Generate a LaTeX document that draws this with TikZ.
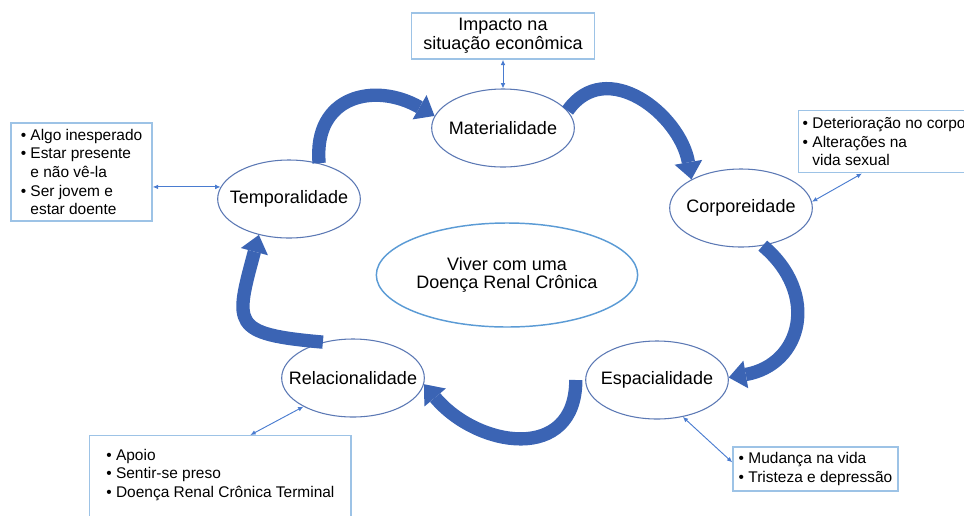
\documentclass[tikz,border=0pt]{standalone}
\usepackage{fontspec}
\setmainfont{Liberation Sans}
\usepackage{xcolor}
\usetikzlibrary{shapes.geometric,arrows.meta,positioning}

\definecolor{ellblue}{HTML}{5B78B4}
\definecolor{mainblue}{HTML}{5B9BD5}
\definecolor{boxblue}{HTML}{9DC3E6}
\definecolor{arrowblue}{HTML}{3B64B4}
\definecolor{linkblue}{HTML}{4A7CD0}

\newcommand{\inell}[1]{\makebox[0pt]{#1}}
\newcommand{\ind}{\hphantom{• }}

\begin{document}
\begin{tikzpicture}[x=0.75pt, y=-0.75pt,
                elnode/.style={ellipse, draw=ellblue, line width=0.8pt, fill=white, minimum width=107pt, minimum height=58.5pt, inner sep=0pt, font=\fontsize{13.5}{14}\selectfont},
                mainnode/.style={ellipse, draw=mainblue, line width=1.1pt, minimum width=196pt, minimum height=78pt, inner sep=0pt, align=center, font=\fontsize{13.5}{13}\selectfont},
                infobox/.style={draw=boxblue, line width=1.1pt, fill=white, align=left, font=\fontsize{11.6}{14}\selectfont},
                bigarrow/.style={draw=arrowblue, line width=10pt, -{Triangle[length=13pt,width=21pt,line width=0pt]}},
                linkarrow/.style={draw=linkblue, line width=0.7pt, {Latex[length=4pt,width=3.5pt]}-{Latex[length=4pt,width=3.5pt]}},
            ]
            \path[use as bounding box, clip] (0,0) rectangle (964,515);

            %Nodes
            \node[mainnode]  (main)  at (507,275) {Viver com uma\\Doença Renal Crônica};
            \node[elnode]    (mat)   at (503,128) {\inell{Materialidade}};
            \node[elnode]    (corp)  at (741,208) {\inell{Corporeidade}};
            \node[elnode]    (espac) at (657,380) {\inell{Espacialidade}};
            \node[elnode]    (rel)   at (353,378) {\inell{Relacionalidade}};
            \node[elnode]    (temp)  at (289,199) {\inell{Temporalidade}};

            \node[infobox, align=center, minimum width=137pt, minimum height=34.5pt, font=\fontsize{13.5}{14}\selectfont] (impbox) at (503,36) {Impacto na\\situação econômica};
            \node[infobox, minimum width=105.75pt, minimum height=73.5pt] (tempbox) at (81.5,172) {• Algo inesperado\\• Estar presente\\\ind e não vê-la\\• Ser jovem e\\\ind estar doente};
            \node[infobox, anchor=north west, inner xsep=3pt, minimum height=46.5pt] (corpbox) at (798,110) {• Deterioração no corpo\\• Alterações na\\\ind vida sexual};
            \node[infobox, minimum width=123.75pt, minimum height=33pt] (espbox) at (815.5,469) {• Mudança na vida\\• Tristeza e depressão};
            \node[infobox, anchor=north west, minimum width=196pt, inner ysep=10pt, text depth=60pt] (relbox) at (89,435) {• Apoio\\• Sentir-se preso\\• Doença Renal Crônica Terminal};

            %Cycle
            \draw[bigarrow] (temp.50) to[out=95, in=150, looseness=1.4] (mat.170);
            \draw[bigarrow] (mat.15) to[out=55, in=100, looseness=1.2] (corp.150);
            \draw[bigarrow] (corp.-60) to[out=-40, in=10, looseness=1.4] (espac.2);
            \draw[bigarrow] ([xshift=-7pt]espac.west) to[out=-90, in=-50, looseness=1.4] (rel.-5);
            \draw[bigarrow] (rel.130) to[out=175, in=-105, looseness=1.9] (temp.-130);

            %Links
            \draw[linkarrow] (impbox.south) -- (mat.north);
            \draw[linkarrow] (tempbox.east |- temp.170) -- (temp.170);
            \draw[linkarrow] ([xshift=48pt]corpbox.south west) -- (corp.5);
            \draw[linkarrow] ([yshift=5pt]espbox.west) -- (espac.-55);
            \draw[linkarrow] ([xshift=121pt]relbox.north west) -- (rel.-150);
        \end{tikzpicture}
\end{document}
